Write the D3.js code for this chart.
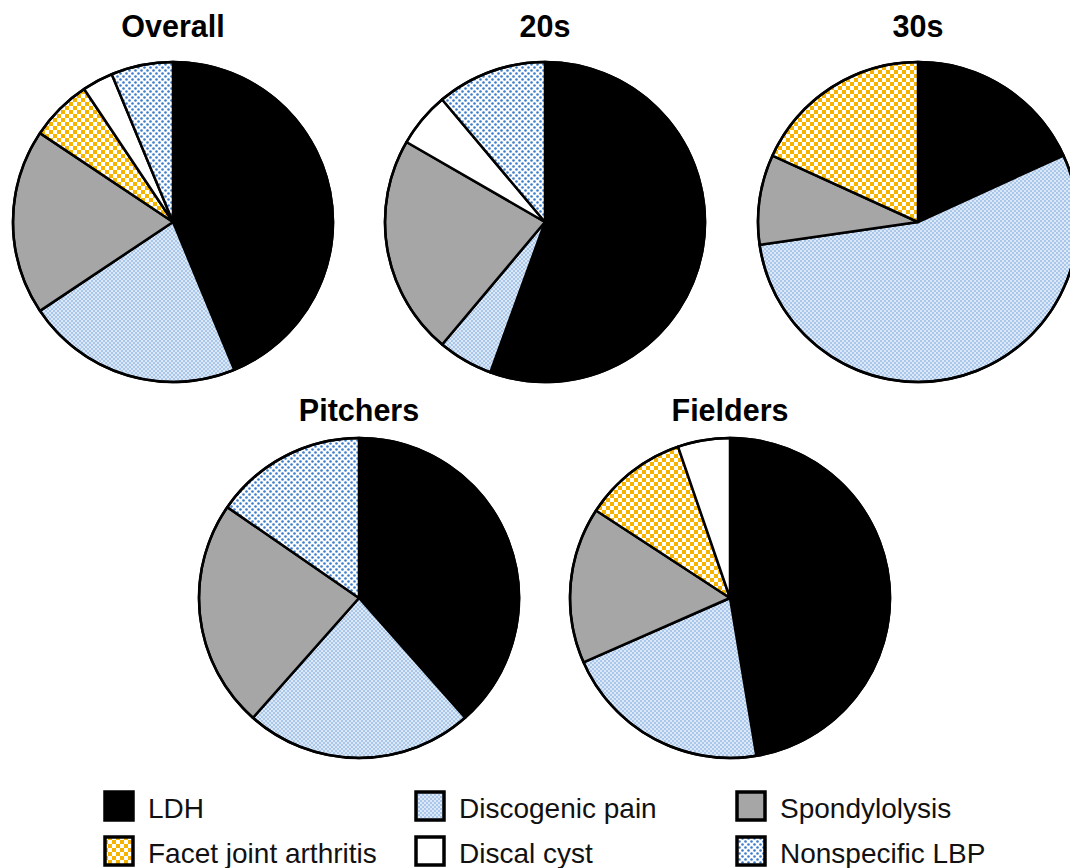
<!DOCTYPE html>
<html>
<head>
<meta charset="utf-8">
<script src="https://cdn.jsdelivr.net/npm/d3@7"></script>
<style>
  body { margin: 0; background: #fff; }
  text { font-family: "Liberation Sans", Arial, sans-serif; }
</style>
</head>
<body>
<svg id="chart"></svg>
<script>
// categories, in the order the slices run clockwise from 12 o'clock
const categories = ["LDH", "Discogenic pain", "Spondylolysis", "Facet joint arthritis", "Discal cyst", "Nonspecific LBP"];

// counts per group
const overall  = [14, 7, 6, 2, 1, 2];
const twenties = [10, 1, 4, 0, 1, 2];
const thirties = [2, 6, 1, 2, 0, 0];
const pitchers = [5, 3, 3, 0, 0, 2];
const fielders = [9, 4, 3, 2, 1, 0];

const groupNames = ["Overall", "20s", "30s", "Pitchers", "Fielders"];
const groupValues = [overall, twenties, thirties, pitchers, fielders];

// legend order (3 columns x 2 rows)
const legendOrder = ["LDH", "Discogenic pain", "Spondylolysis", "Facet joint arthritis", "Discal cyst", "Nonspecific LBP"];

const width = 1070, height = 868, radius = 160;
const centers = [[173, 222], [545, 222], [918, 222], [359, 598], [730, 598]];

const svg = d3.select("#chart")
              .attr("width", width)
              .attr("height", height);

const defs = svg.append("defs");

// discogenic pain: fine light blue checker
let p = defs.append("pattern").attr("id", "pat-disco")
            .attr("patternUnits", "userSpaceOnUse").attr("width", 4).attr("height", 4);
p.append("rect").attr("width", 4).attr("height", 4).attr("fill", "#dce8f6");
p.append("rect").attr("width", 2).attr("height", 2).attr("fill", "#a9c7ea");
p.append("rect").attr("x", 2).attr("y", 2).attr("width", 2).attr("height", 2).attr("fill", "#a9c7ea");

// facet joint arthritis: yellow / white checker
p = defs.append("pattern").attr("id", "pat-facet")
        .attr("patternUnits", "userSpaceOnUse").attr("width", 8).attr("height", 8);
p.append("rect").attr("width", 8).attr("height", 8).attr("fill", "#fff");
p.append("rect").attr("width", 4).attr("height", 4).attr("fill", "#f6b400");
p.append("rect").attr("x", 4).attr("y", 4).attr("width", 4).attr("height", 4).attr("fill", "#f6b400");

// nonspecific LBP: blue dots on white
p = defs.append("pattern").attr("id", "pat-nonspec")
        .attr("patternUnits", "userSpaceOnUse").attr("width", 6).attr("height", 6);
p.append("rect").attr("width", 6).attr("height", 6).attr("fill", "#fff");
p.append("circle").attr("cx", 1.5).attr("cy", 1.5).attr("r", 1.3).attr("fill", "#3a7dcb");
p.append("circle").attr("cx", 4.5).attr("cy", 4.5).attr("r", 1.3).attr("fill", "#3a7dcb");

const fillScale = d3.scaleOrdinal()
  .domain(categories)
  .range(["#000", "url(#pat-disco)", "#a6a6a6", "url(#pat-facet)", "#fff", "url(#pat-nonspec)"]);

const pie = d3.pie().sort(null).value(d => d.value);
const arc = d3.arc().innerRadius(0).outerRadius(radius);

groupNames.forEach(function(name, gi) {
  const data = categories.map((c, i) => ({ cat: c, value: groupValues[gi][i] }))
                         .filter(d => d.value > 0);
  const g = svg.append("g")
               .attr("transform", "translate(" + centers[gi][0] + "," + centers[gi][1] + ")");

  g.selectAll("path")
   .data(pie(data))
   .enter()
   .append("path")
   .attr("d", arc)
   .attr("fill", d => fillScale(d.data.cat))
   .attr("stroke", "#000")
   .attr("stroke-width", 2.5)
   .attr("stroke-linejoin", "round");

  g.append("circle")
   .attr("r", radius)
   .attr("fill", "none")
   .attr("stroke", "#000")
   .attr("stroke-width", 2.5);

  svg.append("text")
     .attr("x", centers[gi][0])
     .attr("y", gi < 3 ? 37 : 421)
     .attr("text-anchor", "middle")
     .attr("font-size", 30.5)
     .attr("font-weight", "bold")
     .text(name);
});

// legend
const legX = [105, 416, 737];
const legY = [792, 837];
const legend = svg.append("g");

legendOrder.forEach(function(c, i) {
  const col = i % 3, row = Math.floor(i / 3);
  legend.append("rect")
        .attr("x", legX[col])
        .attr("y", legY[row])
        .attr("width", 28)
        .attr("height", 28)
        .attr("fill", fillScale(c))
        .attr("stroke", "#000")
        .attr("stroke-width", 3.5);
  legend.append("text")
        .attr("x", legX[col] + 43)
        .attr("y", legY[row] + 26)
        .attr("font-size", 28)
        .attr("fill", "#111")
        .text(c);
});
</script>
</body>
</html>
